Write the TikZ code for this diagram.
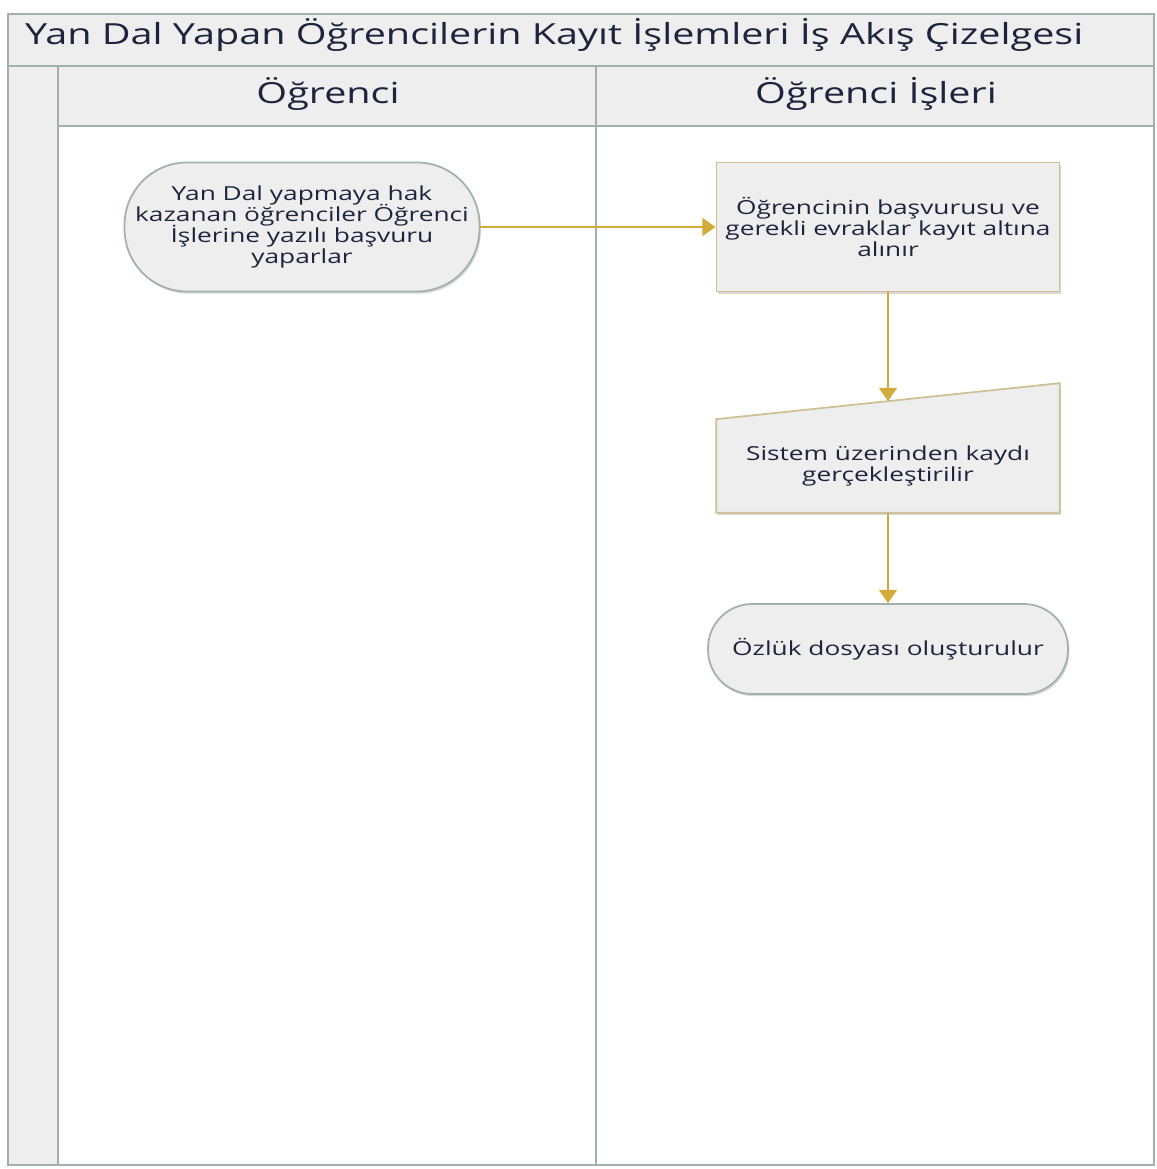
\documentclass[tikz,border=0pt]{standalone}
\usepackage{fontspec}
\setmainfont{Open Sans}[FakeStretch=1.36]
\usetikzlibrary{positioning,arrows.meta,shadows,calc}
\definecolor{lanegray}{RGB}{160,178,170}
\definecolor{bandfill}{RGB}{238,238,238}
\definecolor{boxtan}{RGB}{206,192,148}
\definecolor{flowgold}{RGB}{210,172,58}
\definecolor{inkblue}{RGB}{30,36,62}
\lineskiplimit=-20pt
\tikzset{
  lane/.style={draw=lanegray,line width=1.6pt},
  boxshadow/.style={drop shadow={shadow xshift=0.8pt,shadow yshift=-1.2pt,opacity=0.25,fill=black!60}},
  boxtext/.style={align=center,text=inkblue,font=\fontsize{11}{11.9}\selectfont},
  terminal/.style={draw=lanegray,fill=bandfill,line width=1pt,rounded corners=1.25cm,
    minimum width=7.1cm,minimum height=2.58cm,boxtext,boxshadow},
  process/.style={draw=boxtan,fill=bandfill,line width=1pt,
    minimum width=6.86cm,minimum height=2.58cm,boxtext,boxshadow},
  manualin/.style={minimum width=6.86cm,minimum height=1.86cm,boxtext},
  flow/.style={draw=flowgold,line width=1.4pt,->}
}
\begin{document}
\begin{tikzpicture}[x=0.02cm,y=-0.02cm,>={Triangle[width=10pt,length=7.5pt]}]
\useasboundingbox (0,0) rectangle (1156,1169);
\fill[white] (0,0) rectangle (1156,1169);
% title band
\draw[lane,fill=bandfill] (8,14) rectangle (1154,66);
\node[anchor=west,text=inkblue,font=\fontsize{16.55}{17}\selectfont] (title) at (19,35)
  {Yan Dal Yapan Öğrencilerin Kayıt İşlemleri İş Akış Çizelgesi};
% gutter and lane headers
\draw[lane,fill=bandfill] (8,66) rectangle (58,1165);
\draw[lane,fill=bandfill] (58,66) rectangle (596,126);
\draw[lane,fill=bandfill] (596,66) rectangle (1154,126);
\node[text=inkblue,font=\fontsize{16.55}{17}\selectfont] (lanestudent) at (328,94) {Öğrenci};
\node[text=inkblue,font=\fontsize{16.55}{17}\selectfont] (laneoffice) at (876,94) {Öğrenci İşleri};
% lane bodies
\draw[lane] (58,126) rectangle (596,1165);
\draw[lane] (596,126) rectangle (1154,1165);

% steps
\node[terminal] (apply) at (302,227)
  {Yan Dal yapmaya hak\\kazanan öğrenciler Öğrenci\\İşlerine yazılı başvuru\\yaparlar};
\node[process] (record) at (888,227)
  {Öğrencinin başvurusu ve\\gerekli evraklar kayıt altına\\alınır};
\node[manualin] (system) at (888,466) {};
\draw[draw=boxtan,fill=bandfill,line width=1pt,boxshadow]
  (system.south west) -- (system.south east) -- ($(system.north east)+(0,-36)$)
  -- (system.north west) -- cycle;
\node[manualin] (systemtext) at (system) {Sistem üzerinden kaydı\\gerçekleştirilir};
\coordinate (systop) at ($(system.north)+(0,-18)$);
\node[terminal,rounded corners=0.88cm,minimum width=7.2cm,minimum height=1.8cm] (file) at (888,649)
  {Özlük dosyası oluşturulur};

% connectors
\draw[flow] (apply) -- (record);
\draw[flow] (record) -- (systop);
\draw[flow] (system) -- (file);
\end{tikzpicture}
\end{document}
